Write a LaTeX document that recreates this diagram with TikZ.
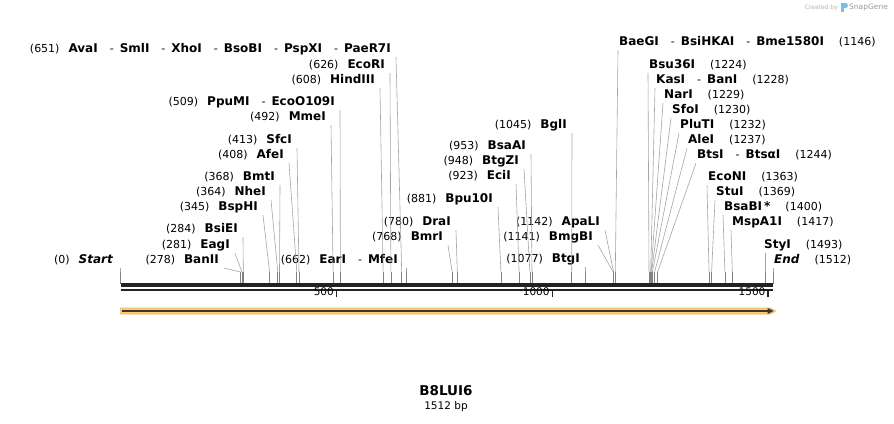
\documentclass[tikz,border=0pt]{standalone}
\usepackage{fontspec}
\setmainfont{DejaVu Sans}
\usetikzlibrary{calc}
\definecolor{leadgray}{RGB}{165,165,165}
\definecolor{tickgray}{RGB}{130,130,130}
\definecolor{seqdark}{RGB}{34,34,34}
\definecolor{orangeF}{RGB}{252,204,112}
\definecolor{orangeD}{RGB}{240,180,80}
\definecolor{sgblue}{RGB}{120,190,235}
\newcommand{\enz}[1]{{\fontsize{12}{13}\selectfont\bfseries #1}}
\newcommand{\dsh}{\hspace{12pt}-\hspace{6pt}}
\newcommand{\gp}{\hspace{9pt}}
\newcommand{\gr}{\hspace{15pt}}
\begin{document}
\begin{tikzpicture}[x=1pt,y=-1pt,
  lead/.style={draw=leadgray, line width=0.6pt},
  sitetick/.style={draw=tickgray, line width=0.7pt},
  labL/.style={anchor=east, inner xsep=5pt, inner ysep=1.5pt, text height=8.4pt, text depth=2.6pt, font=\fontsize{11}{13}\selectfont},
  labR/.style={anchor=west, inner xsep=1pt, inner ysep=1.5pt, text height=8.4pt, text depth=2.6pt, font=\fontsize{11}{13}\selectfont},
  scalelab/.style={anchor=east, inner sep=0pt, font=\fontsize{10.5}{12}\selectfont},
  scaletick/.style={draw=seqdark, line width=1.6pt}]
\useasboundingbox (0,0) rectangle (894,423);

% site coordinates (x = 120.7 + 0.4316*pos)
\foreach \nm/\xx in {0/120.7,278/240.7,281/242.0,284/243.3,345/269.6,364/277.8,368/279.5,408/296.8,413/299.0,492/333.1,509/340.4,608/383.1,626/390.9,651/401.7,662/406.4,768/452.2,780/457.3,881/500.9,923/519.1,948/529.9,953/532.0,1045/571.7,1077/585.5,1141/613.2,1142/613.6,1146/615.3,1224/649.0,1228/650.7,1229/651.1,1230/651.6,1232/652.4,1237/654.6,1244/657.6,1363/709.0,1369/711.6,1400/724.9,1417/732.3,1493/765.1,1512/773.3}
  {\coordinate (p\nm) at (\xx,272);}
\coordinate (seqtop) at (0,284);

% ---- left labels ----
\node[labL] (lAva) at (396,50) {(651)\gp\enz{AvaI}\dsh\enz{SmlI}\dsh\enz{XhoI}\dsh\enz{BsoBI}\dsh\enz{PspXI}\dsh\enz{PaeR7I}};
\node[labL] (lEcoRI) at (390,66) {(626)\gp\enz{EcoRI}};
\node[labL] (lHind) at (380,81) {(608)\gp\enz{HindIII}};
\node[labL] (lPpu) at (340,103) {(509)\gp\enz{PpuMI}\dsh\enz{EcoO109I}};
\node[labL] (lMme) at (331,118) {(492)\gp\enz{MmeI}};
\node[labL] (lSfc) at (297,141) {(413)\gp\enz{SfcI}};
\node[labL] (lAfe) at (289,156) {(408)\gp\enz{AfeI}};
\node[labL] (lBmt) at (280,178) {(368)\gp\enz{BmtI}};
\node[labL] (lNhe) at (271,193) {(364)\gp\enz{NheI}};
\node[labL] (lBsp) at (263,208) {(345)\gp\enz{BspHI}};
\node[labL] (lBsiE) at (243,230) {(284)\gp\enz{BsiEI}};
\node[labL] (lEag) at (235,246) {(281)\gp\enz{EagI}};
\node[labL] (lBanII) at (224,261) {(278)\gp\enz{BanII}};
\node[labL] (lStart) at (118,261) {(0)\gp{\fontsize{12}{13}\selectfont\bfseries\itshape Start}};
\node[labL] (lEar) at (403,261) {(662)\gp\enz{EarI}\dsh\enz{MfeI}};
\node[labL] (lBmr) at (448,238) {(768)\gp\enz{BmrI}};
\node[labL] (lDra) at (456,223) {(780)\gp\enz{DraI}};
\node[labL] (lBpu) at (498,200) {(881)\gp\enz{Bpu10I}};
\node[labL] (lEci) at (516,177) {(923)\gp\enz{EciI}};
\node[labL] (lBtgZ) at (524,162) {(948)\gp\enz{BtgZI}};
\node[labL] (lBsaA) at (531,147) {(953)\gp\enz{BsaAI}};
\node[labL] (lBgl) at (572,126) {(1045)\gp\enz{BglI}};
\node[labL] (lApa) at (605,223) {(1142)\gp\enz{ApaLI}};
\node[labL] (lBmg) at (598,238) {(1141)\gp\enz{BmgBI}};
\node[labL] (lBtg) at (585,260) {(1077)\gp\enz{BtgI}};

% ---- right labels ----
\node[labR] (rBae) at (618,43) {\enz{BaeGI}\dsh\enz{BsiHKAI}\dsh\enz{Bme1580I}\gr(1146)};
\node[labR] (rBsu) at (648,66) {\enz{Bsu36I}\gr(1224)};
\node[labR] (rKas) at (655,81) {\enz{KasI}\dsh\enz{BanI}\gr(1228)};
\node[labR] (rNar) at (663,96) {\enz{NarI}\gr(1229)};
\node[labR] (rSfo) at (671,111) {\enz{SfoI}\gr(1230)};
\node[labR] (rPlu) at (679,126) {\enz{PluTI}\gr(1232)};
\node[labR] (rAle) at (687,141) {\enz{AleI}\gr(1237)};
\node[labR] (rBts) at (696,156) {\enz{BtsI}\dsh\enz{BtsαI}\gr(1244)};
\node[labR] (rEcoN) at (707,178) {\enz{EcoNI}\gr(1363)};
\node[labR] (rStu) at (715,193) {\enz{StuI}\gr(1369)};
\node[labR] (rBsaB) at (723,208) {\enz{BsaBI}\hspace{2pt}\enz{*}\gr(1400)};
\node[labR] (rMsp) at (731,223) {\enz{MspA1I}\gr(1417)};
\node[labR] (rSty) at (763,246) {\enz{StyI}\gr(1493)};
\node[labR] (rEnd) at (773,261) {{\fontsize{12}{13}\selectfont\bfseries\itshape End}\gr(1512)};

% ---- leaders ----
\foreach \lb/\p in {lAva/651,lEcoRI/626,lHind/608,lPpu/509,lMme/492,lSfc/413,lAfe/408,lBmt/368,lNhe/364,lBsp/345,lBsiE/284,lEag/281,lBanII/278,lBmr/768,lDra/780,lBpu/881,lEci/923,lBtgZ/948,lBsaA/953,lBgl/1045,lApa/1142,lBmg/1141}
  {\draw[lead] (\lb.south east) -- (p\p);}
\foreach \lb/\p in {rBae/1146,rBsu/1224,rKas/1228,rNar/1229,rSfo/1230,rPlu/1232,rAle/1237,rBts/1244,rEcoN/1363,rStu/1369,rBsaB/1400,rMsp/1417}
  {\draw[lead] (\lb.south west) -- (p\p);}
\foreach \lb/\p in {lStart/0,lEar/662,lBtg/1077,rSty/1493,rEnd/1512}
  {\draw[lead] (p\p |- \lb.south) -- (p\p);}
% site ticks
\foreach \p in {0,278,281,284,345,364,368,408,413,492,509,608,626,651,662,768,780,881,923,948,953,1045,1077,1141,1142,1146,1224,1228,1229,1230,1232,1237,1244,1363,1369,1400,1417,1493,1512}
  {\draw[sitetick] (p\p) -- (p\p |- seqtop);}

% ---- sequence bars ----
\coordinate (sL) at (120.7,285);
\coordinate (sR) at (773.3,285);
\draw[draw=seqdark, line width=3.3pt] (sL) -- (sR);
\draw[draw=seqdark, line width=2.7pt] ([yshift=-5pt]sL) -- ([yshift=-5pt]sR);

% ---- scale ----
\foreach \v/\xx in {500/336.5,1000/552.3,1500/768.1}{
  \coordinate (t\v) at (\xx,290.5);
  \draw[scaletick] (t\v) -- ++(0,6);
  \node[scalelab] at ([xshift=-2.5pt,yshift=3pt]t\v |- 0,295) {\v};
}

% ---- feature arrow ----
\coordinate (aL) at (120.7,311);
\coordinate (aR) at (775.5,311);
\fill[orangeF, draw=orangeD, line width=0.6pt] ([yshift=3pt]aL) -- ([xshift=-5pt,yshift=3pt]aR) -- (aR) -- ([xshift=-5pt,yshift=-3pt]aR) -- ([yshift=-3pt]aL) -- cycle;
\draw[draw=seqdark!90, line width=1.5pt] ([xshift=1pt]aL) -- ([xshift=-7pt]aR);
\fill[seqdark!90] ([xshift=-2pt]aR) -- ([xshift=-8pt,yshift=3pt]aR) -- ([xshift=-8pt,yshift=-3pt]aR) -- cycle;

% ---- title ----
\node[font=\bfseries\fontsize{13.5}{16}\selectfont] (title) at (446,391) {B8LUI6};
\node[font=\fontsize{10.5}{12}\selectfont] (len) at (446,407) {1512 bp};

% ---- watermark ----
\node[anchor=east, inner sep=0pt, text=black!30, font=\fontsize{6}{7}\selectfont] (cb) at (838,7.5) {Created by};
\fill[sgblue] (841,3) rectangle (843.5,12);
\fill[sgblue] (843.5,3) -- (846,3) .. controls (848.5,3) and (848.5,8) .. (846,8) -- (843.5,8) -- cycle;
\node[anchor=west, inner sep=0pt, text=black!40, font=\fontsize{7.5}{9}\selectfont] (sg) at (849,7.5) {SnapGene};
\end{tikzpicture}
\end{document}
